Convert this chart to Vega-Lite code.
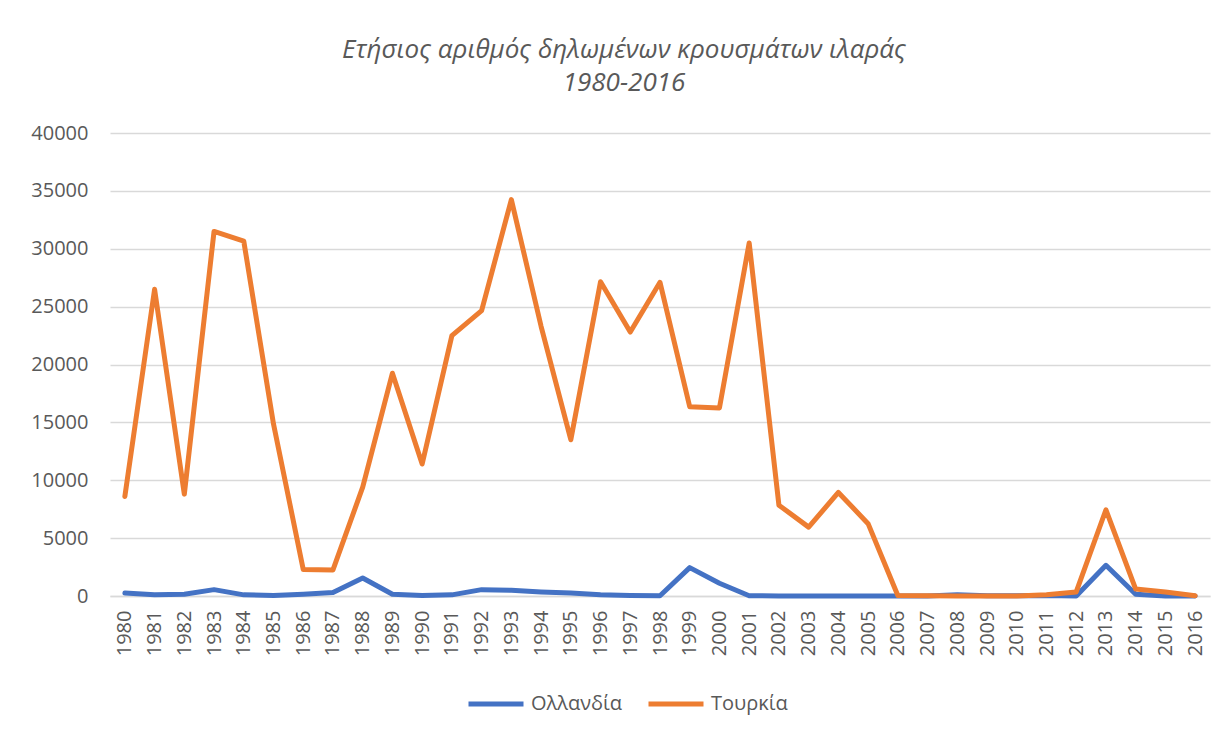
{
  "$schema": "https://vega.github.io/schema/vega-lite/v6.json",
  "width": 1100,
  "height": 463,
  "autosize": {"type": "pad"},
  "padding": {"left": 30, "right": 16, "top": 37, "bottom": 10},
  "background": "white",
  "title": {
    "text": ["Ετήσιος αριθμός δηλωμένων κρουσμάτων ιλαράς", "1980-2016"],
    "font": "Open Sans",
    "fontSize": 26,
    "fontStyle": "italic",
    "fontWeight": "normal",
    "color": "#595959",
    "lineHeight": 33,
    "anchor": "middle",
    "dx": -36,
    "offset": 27
  },
  "data": {
    "values": [
      {"country": "Ολλανδία", "year": "1980", "cases": 250},
      {"country": "Ολλανδία", "year": "1981", "cases": 100},
      {"country": "Ολλανδία", "year": "1982", "cases": 150},
      {"country": "Ολλανδία", "year": "1983", "cases": 550},
      {"country": "Ολλανδία", "year": "1984", "cases": 100},
      {"country": "Ολλανδία", "year": "1985", "cases": 50},
      {"country": "Ολλανδία", "year": "1986", "cases": 150},
      {"country": "Ολλανδία", "year": "1987", "cases": 300},
      {"country": "Ολλανδία", "year": "1988", "cases": 1550},
      {"country": "Ολλανδία", "year": "1989", "cases": 150},
      {"country": "Ολλανδία", "year": "1990", "cases": 50},
      {"country": "Ολλανδία", "year": "1991", "cases": 100},
      {"country": "Ολλανδία", "year": "1992", "cases": 550},
      {"country": "Ολλανδία", "year": "1993", "cases": 500},
      {"country": "Ολλανδία", "year": "1994", "cases": 350},
      {"country": "Ολλανδία", "year": "1995", "cases": 250},
      {"country": "Ολλανδία", "year": "1996", "cases": 100},
      {"country": "Ολλανδία", "year": "1997", "cases": 50},
      {"country": "Ολλανδία", "year": "1998", "cases": 20},
      {"country": "Ολλανδία", "year": "1999", "cases": 2450},
      {"country": "Ολλανδία", "year": "2000", "cases": 1100},
      {"country": "Ολλανδία", "year": "2001", "cases": 20},
      {"country": "Ολλανδία", "year": "2002", "cases": 5},
      {"country": "Ολλανδία", "year": "2003", "cases": 5},
      {"country": "Ολλανδία", "year": "2004", "cases": 5},
      {"country": "Ολλανδία", "year": "2005", "cases": 5},
      {"country": "Ολλανδία", "year": "2006", "cases": 5},
      {"country": "Ολλανδία", "year": "2007", "cases": 10},
      {"country": "Ολλανδία", "year": "2008", "cases": 110},
      {"country": "Ολλανδία", "year": "2009", "cases": 15},
      {"country": "Ολλανδία", "year": "2010", "cases": 15},
      {"country": "Ολλανδία", "year": "2011", "cases": 50},
      {"country": "Ολλανδία", "year": "2012", "cases": 10},
      {"country": "Ολλανδία", "year": "2013", "cases": 2650},
      {"country": "Ολλανδία", "year": "2014", "cases": 150},
      {"country": "Ολλανδία", "year": "2015", "cases": 10},
      {"country": "Ολλανδία", "year": "2016", "cases": 5},
      {"country": "Τουρκία", "year": "1980", "cases": 8600},
      {"country": "Τουρκία", "year": "1981", "cases": 26500},
      {"country": "Τουρκία", "year": "1982", "cases": 8800},
      {"country": "Τουρκία", "year": "1983", "cases": 31500},
      {"country": "Τουρκία", "year": "1984", "cases": 30650},
      {"country": "Τουρκία", "year": "1985", "cases": 14850},
      {"country": "Τουρκία", "year": "1986", "cases": 2300},
      {"country": "Τουρκία", "year": "1987", "cases": 2250},
      {"country": "Τουρκία", "year": "1988", "cases": 9400},
      {"country": "Τουρκία", "year": "1989", "cases": 19250},
      {"country": "Τουρκία", "year": "1990", "cases": 11400},
      {"country": "Τουρκία", "year": "1991", "cases": 22500},
      {"country": "Τουρκία", "year": "1992", "cases": 24650},
      {"country": "Τουρκία", "year": "1993", "cases": 34250},
      {"country": "Τουρκία", "year": "1994", "cases": 23300},
      {"country": "Τουρκία", "year": "1995", "cases": 13500},
      {"country": "Τουρκία", "year": "1996", "cases": 27150},
      {"country": "Τουρκία", "year": "1997", "cases": 22800},
      {"country": "Τουρκία", "year": "1998", "cases": 27100},
      {"country": "Τουρκία", "year": "1999", "cases": 16350},
      {"country": "Τουρκία", "year": "2000", "cases": 16250},
      {"country": "Τουρκία", "year": "2001", "cases": 30500},
      {"country": "Τουρκία", "year": "2002", "cases": 7850},
      {"country": "Τουρκία", "year": "2003", "cases": 5950},
      {"country": "Τουρκία", "year": "2004", "cases": 8950},
      {"country": "Τουρκία", "year": "2005", "cases": 6250},
      {"country": "Τουρκία", "year": "2006", "cases": 50},
      {"country": "Τουρκία", "year": "2007", "cases": 20},
      {"country": "Τουρκία", "year": "2008", "cases": 10},
      {"country": "Τουρκία", "year": "2009", "cases": 10},
      {"country": "Τουρκία", "year": "2010", "cases": 10},
      {"country": "Τουρκία", "year": "2011", "cases": 100},
      {"country": "Τουρκία", "year": "2012", "cases": 350},
      {"country": "Τουρκία", "year": "2013", "cases": 7450},
      {"country": "Τουρκία", "year": "2014", "cases": 600},
      {"country": "Τουρκία", "year": "2015", "cases": 350},
      {"country": "Τουρκία", "year": "2016", "cases": 20}
    ]
  },
  "mark": {"type": "line", "strokeWidth": 5, "strokeJoin": "round", "strokeCap": "round"},
  "encoding": {
    "x": {
      "field": "year",
      "type": "ordinal",
      "title": null,
      "scale": {"type": "point", "padding": 0.5},
      "axis": {
        "labelAngle": -90,
        "labelFontSize": 20,
        "labelColor": "#595959",
        "labelFont": "Open Sans",
        "ticks": false,
        "domainColor": "#d9d9d9",
        "domainWidth": 1.5,
        "labelPadding": 14
      }
    },
    "y": {
      "field": "cases",
      "type": "quantitative",
      "title": null,
      "scale": {"domain": [0, 40000]},
      "axis": {
        "values": [0, 5000, 10000, 15000, 20000, 25000, 30000, 35000, 40000],
        "format": "d",
        "labelFontSize": 20,
        "labelColor": "#595959",
        "labelFont": "Open Sans",
        "ticks": false,
        "domain": false,
        "gridColor": "#d9d9d9",
        "gridWidth": 1.5,
        "labelPadding": 22
      }
    },
    "color": {
      "field": "country",
      "type": "nominal",
      "title": null,
      "scale": {"domain": ["Ολλανδία", "Τουρκία"], "range": ["#4472C4", "#ED7D31"]},
      "legend": {
        "orient": "none",
        "legendX": 356,
        "legendY": 541,
        "direction": "horizontal",
        "symbolType": "stroke",
        "symbolStrokeWidth": 5,
        "symbolSize": 3025,
        "labelFontSize": 20,
        "labelFont": "Open Sans",
        "labelColor": "#595959",
        "labelOffset": 5,
        "columnPadding": 15
      }
    }
  },
  "config": {
    "view": {"stroke": null}
  }
}
